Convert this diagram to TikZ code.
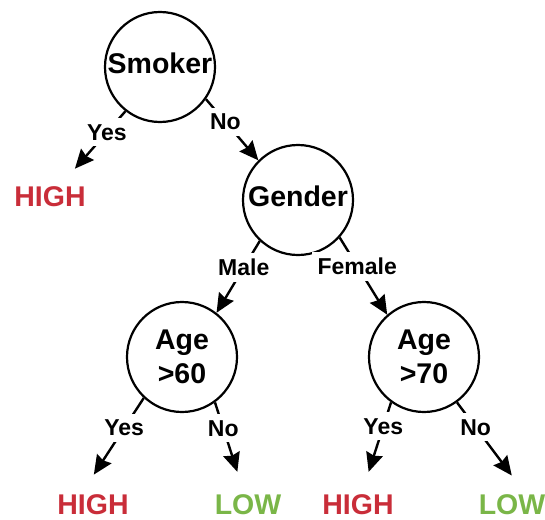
\documentclass[tikz,border=0pt]{standalone}
\usepackage{fontspec}
\setmainfont{Liberation Sans}
\usetikzlibrary{arrows.meta}
\definecolor{highred}{HTML}{C92D39}
\definecolor{lowgreen}{HTML}{7AB648}

\begin{document}
\begin{tikzpicture}[x=1pt,y=-1pt,
  test/.style={draw,circle,line width=2.2pt,minimum size=110pt,inner sep=0pt,align=center,font=\fontsize{28.5}{34}\selectfont\bfseries},
  oneline/.style={text depth=7pt},
  leaf/.style={inner sep=0pt,font=\fontsize{28.5}{34}\selectfont\bfseries},
  answer/.style={fill=white,inner sep=6pt,pos=.37,font=\fontsize{23}{28}\selectfont\bfseries},
  branch/.style={draw,line width=2.4pt,-{Stealth[length=19pt,width=17pt,inset=2pt]}},
  toleaf/.style={shorten >=24pt}]
\useasboundingbox (0,0) rectangle (545,519);

\node[test,oneline] (smoker) at (160,67) {Smoker};
\node[test,oneline] (gender) at (298,200) {Gender};
\node[test] (age60) at (182,357) {Age\\>60};
\node[test] (age70) at (424,357) {Age\\>70};

\node[leaf,text=highred] (high1) at (50,197) {HIGH};
\node[leaf,text=highred] (high2) at (93,505) {HIGH};
\node[leaf,text=lowgreen] (low1) at (248,505) {LOW};
\node[leaf,text=highred] (high3) at (358,505) {HIGH};
\node[leaf,text=lowgreen] (low2) at (512,505) {LOW};

\path[branch,toleaf] (smoker.-128) -- node[answer,pos=.28] {Yes} (high1);
\path[branch] (smoker.-35) -- node[answer] {No} (gender.135);
\path[branch] (gender.-133) -- node[answer] {Male} (age60.52);
\path[branch] (gender.-42) -- node[answer] {Female} (age70.131);
\path[branch,toleaf] (age60.-133) -- node[answer,pos=.31] {Yes} (high2.140);
\path[branch,toleaf] (age60.-54) -- node[answer,pos=.28] {No} (low1);
\path[branch,toleaf] (age70.-126) -- node[answer,pos=.26] {Yes} (high3);
\path[branch,toleaf] (age70.-54) -- node[answer,pos=.27] {No} (low2.36);
\end{tikzpicture}
\end{document}
